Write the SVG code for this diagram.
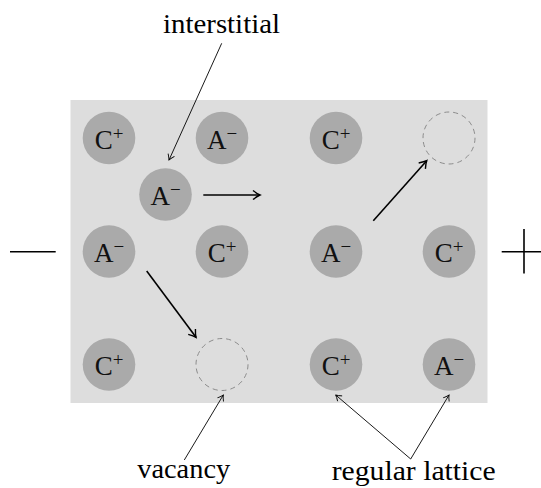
<svg xmlns="http://www.w3.org/2000/svg" width="541" height="488" viewBox="0 0 541 488">
<defs>
<style>
.ion{fill:#aaaaaa;}
.vac{fill:none;stroke:#8c8c8c;stroke-width:1;stroke-dasharray:5,4;}
.lbl{font-family:"Liberation Serif","Times New Roman",serif;font-size:27px;fill:#111;text-anchor:middle;}
.sup{font-size:19px;}
.cap{font-family:"Liberation Serif","Times New Roman",serif;font-size:28px;fill:#000;text-anchor:middle;}
.thick{stroke:#000;stroke-width:1.6;fill:none;marker-end:url(#ah);}
.thin{stroke:#000;stroke-width:0.9;fill:none;marker-end:url(#ahs);}
.sign{stroke:#000;stroke-width:1.6;fill:none;}
</style>
<marker id="ah" markerUnits="userSpaceOnUse" viewBox="-10 -6 12 12" refX="0" refY="0" markerWidth="12" markerHeight="12" orient="auto">
<path d="M-7,-4.5 Q-2.5,-1 0,0 Q-2.5,1 -7,4.5" fill="none" stroke="#000" stroke-width="1.4"/>
</marker>
<marker id="ahs" markerUnits="userSpaceOnUse" viewBox="-10 -6 12 12" refX="0" refY="0" markerWidth="12" markerHeight="12" orient="auto">
<path d="M-5.5,-3.5 Q-2,-0.8 0,0 Q-2,0.8 -5.5,3.5" fill="none" stroke="#000" stroke-width="0.9"/>
</marker>
</defs>
<rect id="lattice" x="70.5" y="100" width="417" height="303" fill="#dddddd"/>
<g id="n-r1c1"><circle class="ion" cx="109" cy="138" r="26.3"/><text class="lbl" x="109" y="148.5">C<tspan class="sup" dy="-9">+</tspan></text></g>
<g id="n-r1c2"><circle class="ion" cx="222" cy="138" r="26.3"/><text class="lbl" x="222" y="148.5">A<tspan class="sup" dy="-9">−</tspan></text></g>
<g id="n-r1c3"><circle class="ion" cx="336" cy="138" r="26.3"/><text class="lbl" x="336" y="148.5">C<tspan class="sup" dy="-9">+</tspan></text></g>
<g id="n-r1c4"><circle class="vac" cx="449" cy="138" r="26"/></g>
<g id="n-inter"><circle class="ion" cx="165.5" cy="194.5" r="26.3"/><text class="lbl" x="165.5" y="205">A<tspan class="sup" dy="-9">−</tspan></text></g>
<g id="n-r2c1"><circle class="ion" cx="109" cy="251.5" r="26.3"/><text class="lbl" x="109" y="262">A<tspan class="sup" dy="-9">−</tspan></text></g>
<g id="n-r2c2"><circle class="ion" cx="222" cy="251.5" r="26.3"/><text class="lbl" x="222" y="262">C<tspan class="sup" dy="-9">+</tspan></text></g>
<g id="n-r2c3"><circle class="ion" cx="336" cy="251.5" r="26.3"/><text class="lbl" x="336" y="262">A<tspan class="sup" dy="-9">−</tspan></text></g>
<g id="n-r2c4"><circle class="ion" cx="449" cy="251.5" r="26.3"/><text class="lbl" x="449" y="262">C<tspan class="sup" dy="-9">+</tspan></text></g>
<g id="n-r3c1"><circle class="ion" cx="109" cy="364.5" r="26.3"/><text class="lbl" x="109" y="375">C<tspan class="sup" dy="-9">+</tspan></text></g>
<g id="n-r3c2"><circle class="vac" cx="222" cy="364.5" r="26"/></g>
<g id="n-r3c3"><circle class="ion" cx="336" cy="364.5" r="26.3"/><text class="lbl" x="336" y="375">C<tspan class="sup" dy="-9">+</tspan></text></g>
<g id="n-r3c4"><circle class="ion" cx="449" cy="364.5" r="26.3"/><text class="lbl" x="449" y="375">A<tspan class="sup" dy="-9">−</tspan></text></g>
<g id="minus"><line class="sign" x1="10" y1="251.7" x2="55.7" y2="251.7"/></g>
<g id="plus"><line class="sign" x1="501.7" y1="251.7" x2="541" y2="251.7"/><line class="sign" x1="524" y1="229" x2="524" y2="273.5"/></g>
<g id="t-inter"><text class="cap" x="221.5" y="33" textLength="117" lengthAdjust="spacingAndGlyphs">interstitial</text></g>
<g id="t-vac"><text class="cap" x="183.7" y="478" textLength="93" lengthAdjust="spacingAndGlyphs">vacancy</text></g>
<g id="t-reg"><text class="cap" x="413.7" y="480" textLength="164" lengthAdjust="spacingAndGlyphs">regular lattice</text></g>
<g id="connectors">
<line class="thick" x1="203.3" y1="195" x2="260" y2="195"/>
<line class="thick" x1="373.3" y1="220.7" x2="426.7" y2="160.7"/>
<line class="thick" x1="146.7" y1="271" x2="196" y2="337.3"/>
<line class="thin" x1="221.7" y1="43.3" x2="169" y2="160"/>
<line class="thin" x1="184.3" y1="460" x2="223.3" y2="395"/>
<line class="thin" x1="410.7" y1="459" x2="335.7" y2="395"/>
<line class="thin" x1="410.7" y1="459" x2="449" y2="395"/>
</g>
</svg>
